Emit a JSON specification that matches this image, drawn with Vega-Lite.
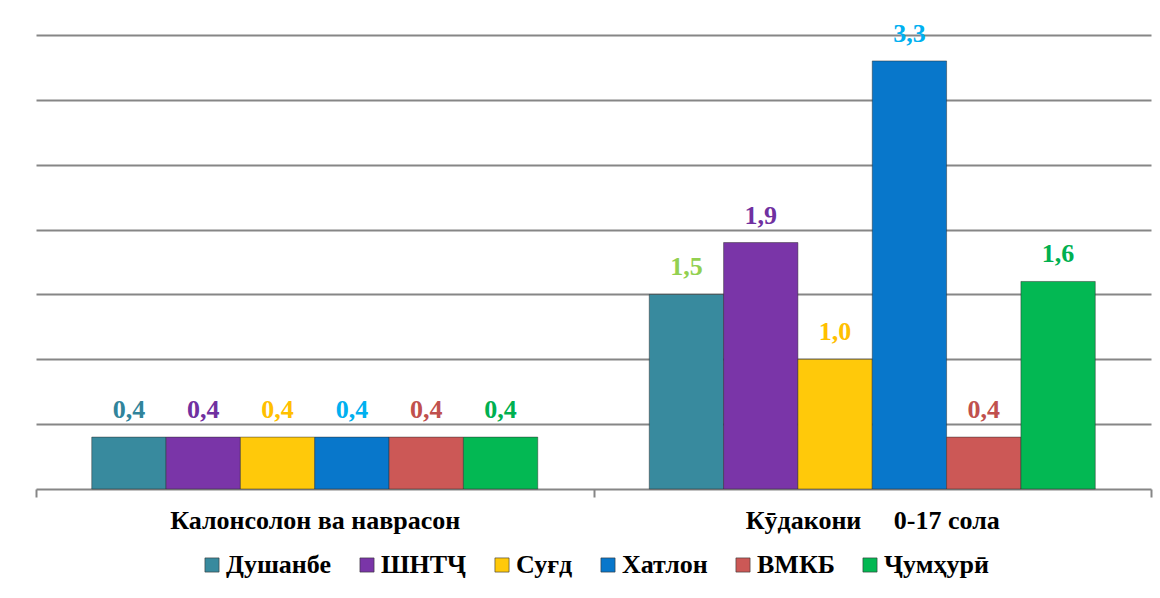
{
  "$schema": "https://vega.github.io/schema/vega-lite/v6.json",
  "width": 1115,
  "height": 454,
  "padding": {"left": 35, "top": 20, "right": 10, "bottom": 5},
  "background": "white",
  "config": {
    "view": {"stroke": null},
    "locale": {"number": {"decimal": ",", "thousands": " ", "grouping": [3], "currency": ["", ""]}},
    "font": "Liberation Serif, Times New Roman, serif"
  },
  "data": {
    "values": [
      {"group": "Калонсолон ва наврасон", "series": "Душанбе", "value": 0.4},
      {"group": "Калонсолон ва наврасон", "series": "ШНТҶ", "value": 0.4},
      {"group": "Калонсолон ва наврасон", "series": "Суғд", "value": 0.4},
      {"group": "Калонсолон ва наврасон", "series": "Хатлон", "value": 0.4},
      {"group": "Калонсолон ва наврасон", "series": "ВМКБ", "value": 0.4},
      {"group": "Калонсолон ва наврасон", "series": "Ҷумҳурӣ", "value": 0.4},
      {"group": "Кӯдакони\u00a0\u00a0\u00a0\u00a0\u00a00-17 сола", "series": "Душанбе", "value": 1.5},
      {"group": "Кӯдакони\u00a0\u00a0\u00a0\u00a0\u00a00-17 сола", "series": "ШНТҶ", "value": 1.9},
      {"group": "Кӯдакони\u00a0\u00a0\u00a0\u00a0\u00a00-17 сола", "series": "Суғд", "value": 1.0},
      {"group": "Кӯдакони\u00a0\u00a0\u00a0\u00a0\u00a00-17 сола", "series": "Хатлон", "value": 3.3},
      {"group": "Кӯдакони\u00a0\u00a0\u00a0\u00a0\u00a00-17 сола", "series": "ВМКБ", "value": 0.4},
      {"group": "Кӯдакони\u00a0\u00a0\u00a0\u00a0\u00a00-17 сола", "series": "Ҷумҳурӣ", "value": 1.6}
    ]
  },
  "encoding": {
    "x": {
      "field": "group",
      "type": "nominal",
      "sort": null,
      "scale": {"paddingInner": 0, "paddingOuter": 0},
      "axis": {
        "title": null,
        "labelAngle": 0,
        "labelFont": "Liberation Serif, Times New Roman, serif",
        "labelFontSize": 26,
        "labelFontWeight": "bold",
        "labelColor": "#000000",
        "labelPadding": 10,
        "labelLimit": 500,
        "domainColor": "#868686",
        "domainWidth": 2,
        "tickColor": "#868686",
        "tickWidth": 2,
        "tickSize": 8,
        "tickBand": "extent",
        "grid": false
      }
    },
    "xOffset": {
      "field": "series",
      "type": "nominal",
      "sort": null,
      "scale": {"paddingInner": 0, "paddingOuter": 0.75}
    },
    "y": {
      "field": "value",
      "type": "quantitative",
      "scale": {"domain": [0, 3.5], "nice": false},
      "axis": {
        "title": null,
        "labels": false,
        "ticks": false,
        "domain": false,
        "grid": true,
        "gridColor": "#868686",
        "gridWidth": 1.8,
        "values": [0.5, 1, 1.5, 2, 2.5, 3, 3.5]
      }
    }
  },
  "layer": [
    {
      "mark": {"type": "bar", "stroke": "#2b2b2b", "strokeWidth": 0.8, "strokeOpacity": 0.6},
      "encoding": {
        "color": {
          "field": "series",
          "type": "nominal",
          "sort": null,
          "scale": {
            "domain": ["Душанбе", "ШНТҶ", "Суғд", "Хатлон", "ВМКБ", "Ҷумҳурӣ"],
            "range": ["#388a9e", "#7a35a8", "#ffc90a", "#0877cb", "#cc5856", "#03b853"]
          },
          "legend": {
            "title": null,
            "orient": "none",
            "legendX": 163,
            "legendY": 517,
            "direction": "horizontal",
            "symbolType": "square",
            "symbolSize": 200,
            "symbolStrokeColor": "#333333",
            "symbolStrokeWidth": 0.6,
            "labelFont": "Liberation Serif, Times New Roman, serif",
            "labelFontSize": 26,
            "labelFontWeight": "bold",
            "labelColor": "#000000",
            "labelOffset": 1,
            "columnPadding": 22,
            "labelLimit": 300
          }
        }
      }
    },
    {
      "mark": {"type": "text", "baseline": "middle", "align": "center", "dy": -27, "font": "Liberation Serif, Times New Roman, serif", "fontSize": 26, "fontWeight": "bold"},
      "encoding": {
        "text": {"field": "value", "type": "quantitative", "format": ".1f"},
        "fill": {
          "condition": {"test": "datum.series === 'Душанбе' && datum.value > 1", "value": "#92d050"},
          "field": "series",
          "type": "nominal",
          "sort": null,
          "scale": {
            "domain": ["Душанбе", "ШНТҶ", "Суғд", "Хатлон", "ВМКБ", "Ҷумҳурӣ"],
            "range": ["#31849b", "#7030a0", "#ffc000", "#00b0f0", "#c0504d", "#00b050"]
          },
          "legend": null
        }
      }
    }
  ]
}
